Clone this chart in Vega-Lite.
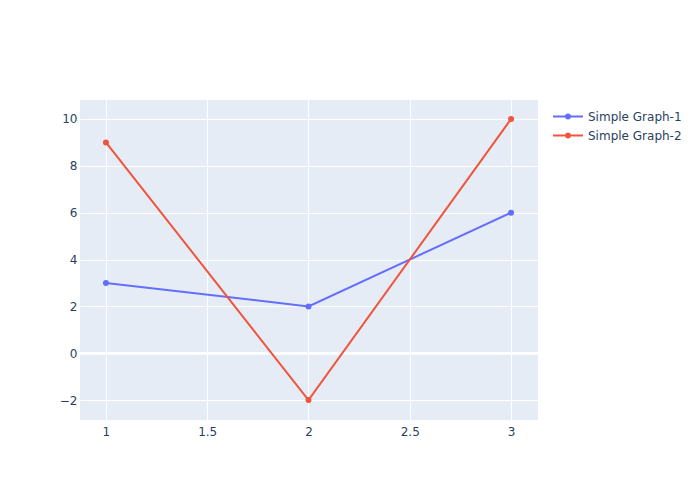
{
  "$schema": "https://vega.github.io/schema/vega-lite/v6.json",
  "width": 458,
  "height": 320,
  "autosize": "none",
  "padding": {"left": 80, "top": 100, "right": 162, "bottom": 80},
  "background": "white",
  "config": {
    "view": {"fill": "#E5ECF6", "stroke": null},
    "font": "DejaVu Sans",
    "axis": {
      "domain": false, "ticks": false, "grid": true, "gridColor": "white", "gridWidth": 1, "gridOpacity": 1,
      "labelFont": "DejaVu Sans", "labelFontSize": 12, "labelColor": "#2a3f5f", "title": null
    }
  },
  "data": {"values": [
    {"x": 1, "y": 3, "series": "Simple Graph-1"},
    {"x": 2, "y": 2, "series": "Simple Graph-1"},
    {"x": 3, "y": 6, "series": "Simple Graph-1"},
    {"x": 1, "y": 9, "series": "Simple Graph-2"},
    {"x": 2, "y": -2, "series": "Simple Graph-2"},
    {"x": 3, "y": 10, "series": "Simple Graph-2"}
  ]},
  "layer": [
    {
      "mark": {"type": "rule", "color": "white", "strokeWidth": 2},
      "encoding": {"y": {"datum": 0, "type": "quantitative",
        "scale": {"domain": [-2.85, 10.81], "nice": false, "zero": false},
        "axis": {"values": [-2, 0, 2, 4, 6, 8, 10], "labelPadding": 3, "grid": true}}}
    },
    {
      "mark": {"type": "line", "strokeWidth": 2, "point": {"filled": true, "size": 36, "opacity": 1}},
      "encoding": {
        "x": {"field": "x", "type": "quantitative",
          "scale": {"domain": [0.872, 3.133], "nice": false, "zero": false},
          "axis": {"values": [1, 1.5, 2, 2.5, 3], "labelPadding": 6, "format": "~g", "grid": true}},
        "y": {"field": "y", "type": "quantitative",
          "scale": {"domain": [-2.85, 10.81], "nice": false, "zero": false},
          "axis": {"values": [-2, 0, 2, 4, 6, 8, 10], "labelPadding": 3, "grid": true}},
        "color": {"field": "series", "type": "nominal",
          "scale": {"domain": ["Simple Graph-1", "Simple Graph-2"], "range": ["#636efa", "#EF553B"]},
          "legend": {
            "title": null, "orient": "none", "legendX": 472, "legendY": 7,
            "symbolType": "M-1,0H1M-0.13,0A0.13,0.13,0,1,1,0.13,0A0.13,0.13,0,1,1,-0.13,0Z",
            "symbolSize": 900, "symbolStrokeWidth": 2,
            "labelFont": "DejaVu Sans", "labelFontSize": 12, "labelColor": "#2a3f5f",
            "labelOffset": 4, "rowPadding": -1, "clipHeight": 19
          }
        }
      }
    }
  ]
}
